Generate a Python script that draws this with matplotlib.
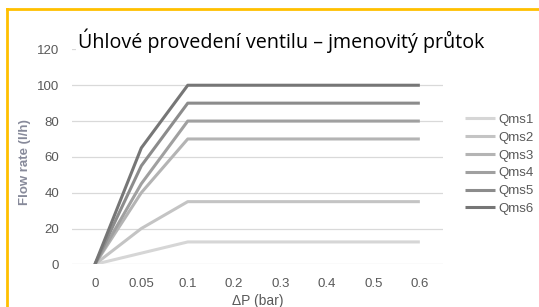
import matplotlib.pyplot as plt
from matplotlib.lines import Line2D

# categories on the x axis (Excel-style category axis)
dp_labels = ["0", "0.05", "0.1", "0.2", "0.3", "0.4", "0.5", "0.6"]

qms1 = [0, 6.25, 12.5, 12.5, 12.5, 12.5, 12.5, 12.5]
qms2 = [0, 20, 35, 35, 35, 35, 35, 35]
qms3 = [0, 40, 70, 70, 70, 70, 70, 70]
qms4 = [0, 45, 80, 80, 80, 80, 80, 80]
qms5 = [0, 55, 90, 90, 90, 90, 90, 90]
qms6 = [0, 65, 100, 100, 100, 100, 100, 100]

series_names = ["Qms1", "Qms2", "Qms3", "Qms4", "Qms5", "Qms6"]
series_colors = ["#d6d6d6", "#c4c4c4", "#b4b4b4", "#a0a0a0", "#8c8c8c", "#767676"]

TICK_GRAY = "#595959"

plt.rcParams["font.family"] = ["Liberation Sans", "DejaVu Sans"]

fig = plt.figure(figsize=(5.39, 3.07), dpi=100)
ax = fig.add_axes([0.133, 0.139, 0.689, 0.700])

x = list(range(len(dp_labels)))
for name, vals, col in zip(series_names, [qms1, qms2, qms3, qms4, qms5, qms6], series_colors):
    ax.plot(x, vals, color=col, linewidth=2.2, label=name, solid_capstyle="butt", zorder=3)

ax.set_xlim(-0.5, len(dp_labels) - 0.5)
ax.set_ylim(0, 120)
ax.set_yticks(range(0, 121, 20))
ax.set_xticks(x)
ax.set_xticklabels(dp_labels)
ax.grid(axis="y", color="#d9d9d9", linewidth=0.9, zorder=0)
ax.grid(axis="x", visible=False)
for s in ax.spines.values():
    s.set_visible(False)
ax.tick_params(axis="both", length=0, labelsize=9.5, colors=TICK_GRAY)
ax.tick_params(axis="y", pad=9)
ax.tick_params(axis="x", pad=10)

ax.set_xlabel("\u0394P (bar)", fontsize=10, color=TICK_GRAY, labelpad=3)
fig.text(0.047, 0.473, "Flow rate (l/h)", rotation=90, ha="center", va="center",
         fontsize=9.5, fontweight="bold", color="#878a9a")

fig.text(0.145, 0.845, "Úhlové provedení ventilu \u2013 jmenovitý průtok",
         fontsize=14.2, family=["Open Sans", "DejaVu Sans"], color="black",
         ha="left", va="baseline",
         bbox=dict(facecolor="white", edgecolor="none", pad=1.5))

leg = ax.legend(loc="center left", bbox_to_anchor=(1.059, 0.465), frameon=False,
                fontsize=9.5, handlelength=2.3, handletextpad=0.2,
                labelspacing=0.42, borderaxespad=0, borderpad=0)
for t in leg.get_texts():
    t.set_color(TICK_GRAY)

# orange frame edges visible at top and left
fig.add_artist(Line2D([0.0125, 1.0], [0.972, 0.972], color="#ffc000", linewidth=2.0,
                      transform=fig.transFigure))
fig.add_artist(Line2D([0.0125, 0.0125], [0.0, 0.972], color="#ffc000", linewidth=2.0,
                      transform=fig.transFigure))

fig.savefig("out.png", dpi=100)
